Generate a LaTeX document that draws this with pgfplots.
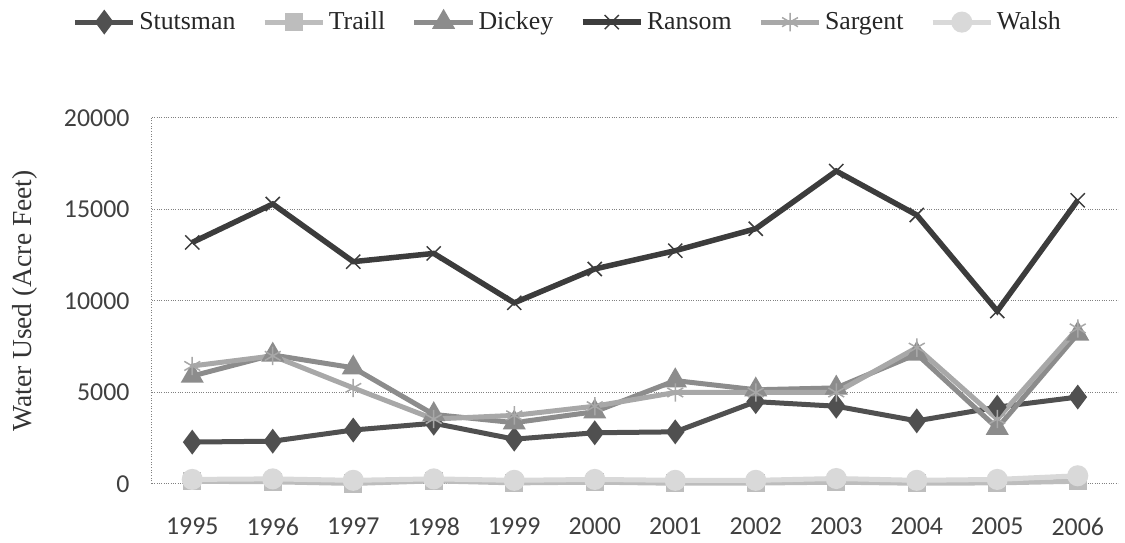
\documentclass[border=0pt]{standalone}
\usepackage{pgfplots}
\pgfplotsset{compat=1.18}
\usepackage{fontspec}
\setmainfont{Liberation Serif}
\newfontfamily\carlito{Carlito}
\newfontfamily\serifx{Liberation Serif}

\definecolor{cStut}{HTML}{505050}
\definecolor{cTraill}{HTML}{BDBDBD}
\definecolor{cDickey}{HTML}{8C8C8C}
\definecolor{cRansom}{HTML}{3C3C3C}
\definecolor{cSarg}{HTML}{A8A8A8}
\definecolor{cWalsh}{HTML}{D9D9D9}

\begin{document}
\begin{tikzpicture}
\begin{axis}[name=ax,
  width=579.6pt, height=219.6pt, scale only axis,
  xmin=1994.5, xmax=2006.5, ymin=0, ymax=20000,
  xtick=data, ytick={0,5000,10000,15000,20000},
  scaled y ticks=false,
  /pgf/number format/.cd, 1000 sep={}, assume math mode=true, /pgfplots/.cd,
  ticklabel style={font=\carlito\fontsize{15.5}{18}\selectfont, text=black!75},
  yticklabel style={xshift=-10pt},
  xticklabel style={yshift=-17pt},
  major tick length=0pt,
  axis y line*=left, axis x line*=bottom,
  y axis line style={gray, densely dotted, line width=0.6pt},
  x axis line style={draw=none},
  ymajorgrids, major grid style={gray, densely dotted, line width=0.6pt},
  ylabel={Water Used (Acre Feet)},
  every axis y label/.style={at={(rel axis cs:-0.1315,0.5)}, rotate=90, anchor=center,
    font=\serifx\fontsize{16.5}{19}\selectfont, text=black!80},
  clip=false,
  legend columns=6,
  legend style={draw=none, fill=none, at={(0.431,1.262)}, anchor=center,
    font=\serifx\fontsize{15.5}{18}\selectfont, text=black!85,
    /tikz/every even column/.append style={column sep=14pt},
    /tikz/every odd column/.append style={column sep=0pt},
    inner sep=0pt},
  legend image code/.code={\draw[mark repeat=2, mark phase=2, #1] plot coordinates {(0pt,0pt) (17.5pt,0pt) (35pt,0pt)};},
]
\addplot[cStut, line width=3pt, mark=diamond*, mark size=5pt, mark options={solid}] coordinates {
(1995,2290) (1996,2340) (1997,2950) (1998,3320) (1999,2450) (2000,2800)
(2001,2850) (2002,4500) (2003,4250) (2004,3450) (2005,4200) (2006,4750)};
\addlegendentry{Stutsman}
\addplot[cTraill, line width=3pt, mark=square*, mark size=4pt] coordinates {
(1995,150) (1996,120) (1997,30) (1998,170) (1999,60) (2000,100)
(2001,40) (2002,50) (2003,100) (2004,40) (2005,60) (2006,150)};
\addlegendentry{Traill}
\addplot[cDickey, line width=3pt, mark=triangle*, mark size=5pt] coordinates {
(1995,5900) (1996,7050) (1997,6350) (1998,3800) (1999,3350) (2000,3950)
(2001,5650) (2002,5150) (2003,5250) (2004,7100) (2005,3050) (2006,8200)};
\addlegendentry{Dickey}
\addplot[cRansom, line width=3.3pt, mark=x, mark size=6pt, mark options={line width=0.9pt}] coordinates {
(1995,13200) (1996,15300) (1997,12150) (1998,12600) (1999,9900) (2000,11750)
(2001,12750) (2002,13950) (2003,17100) (2004,14700) (2005,9450) (2006,15500)};
\addlegendentry{Ransom}
\addplot[cSarg, line width=3pt, mark=asterisk, mark size=5.5pt, mark options={line width=0.9pt}] coordinates {
(1995,6450) (1996,7000) (1997,5250) (1998,3550) (1999,3750) (2000,4250)
(2001,5000) (2002,5000) (2003,5000) (2004,7450) (2005,3550) (2006,8500)};
\addlegendentry{Sargent}
\addplot[cWalsh, line width=3pt, mark=*, mark size=4.8pt] coordinates {
(1995,250) (1996,280) (1997,200) (1998,280) (1999,200) (2000,250)
(2001,200) (2002,200) (2003,300) (2004,200) (2005,250) (2006,450)};
\addlegendentry{Walsh}
\end{axis}
\path ([shift={(-91.2pt,-35.4pt)}]ax.south west) rectangle ([shift={(4.2pt,70.8pt)}]ax.north east);
\end{tikzpicture}
\end{document}
